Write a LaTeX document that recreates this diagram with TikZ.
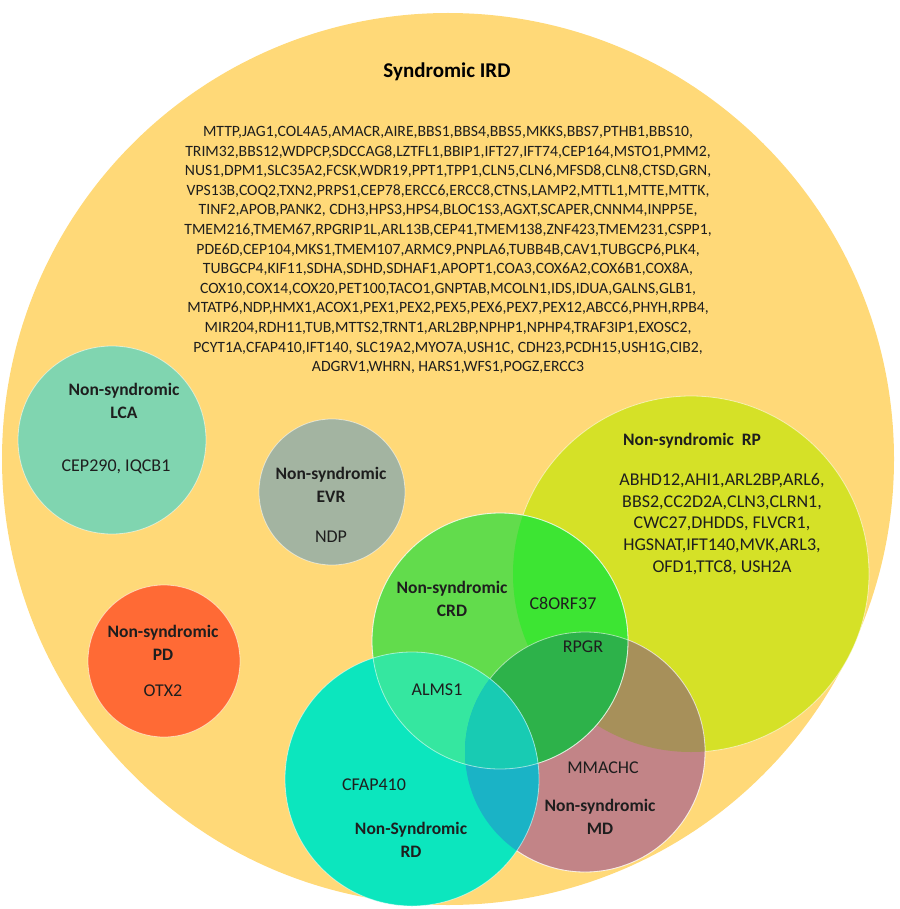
\documentclass[tikz,border=0pt]{standalone}
\usepackage{fontspec}
\setmainfont{Carlito}
\usepackage{xcolor}
\definecolor{irdfill}{HTML}{FFD978}
\definecolor{lcafill}{HTML}{80D5B0}
\definecolor{evrfill}{HTML}{A3B4A1}
\definecolor{pdfill}{HTML}{FF6A35}
\definecolor{rpfill}{HTML}{D5E127}
\definecolor{mdfill}{HTML}{C28487}
\definecolor{mdrpfill}{HTML}{A7905A}
\definecolor{crdfill}{HTML}{62DC4C}
\definecolor{crdrpfill}{HTML}{3DE533}
\definecolor{crdmdfill}{HTML}{2DB24A}
\definecolor{rdfill}{HTML}{0CE6BE}
\definecolor{rdcrdfill}{HTML}{35E7A0}
\definecolor{rdmdfill}{HTML}{1AB3C6}
\definecolor{rdcrdmdfill}{HTML}{18CBB3}
\definecolor{ink}{HTML}{1E1E1E}

\begin{document}
\begin{tikzpicture}[x=1pt,y=-1pt,
    rim/.style={draw=white,draw opacity=.55,line width=.8pt},
    lbl/.style={font=\fontsize{17.5}{23}\selectfont\bfseries,text=ink,align=center,inner sep=0pt},
    gene/.style={font=\fontsize{18}{21.7}\selectfont,text=ink,align=center,inner sep=0pt}]
    \useasboundingbox (0,0) rectangle (899,909);
    \coordinate (ird) at (448,459);
    \coordinate (lca) at (112,440);
    \coordinate (evr) at (332,492);
    \coordinate (pd) at (164,661);
    \coordinate (rp) at (691,574);
    \coordinate (md) at (585,752);
    \coordinate (crd) at (500,641);
    \coordinate (rd) at (412,779);

    \fill[irdfill] (ird) circle (446pt);
    \fill[lcafill,rim] (lca) circle (94pt);
    \fill[evrfill,rim] (evr) circle (73pt);
    \fill[pdfill,rim] (pd) circle (76pt);
    \fill[rpfill,rim] (rp) circle (178pt);
    \fill[mdfill,rim] (md) circle (120pt);
    \begin{scope}
        \clip (md) circle (120pt);
        \fill[mdrpfill] (rp) circle (178pt);
    \end{scope}
    \fill[crdfill] (crd) circle (128pt);
    \begin{scope}
        \clip (crd) circle (128pt);
        \fill[crdrpfill] (rp) circle (178pt);
        \fill[crdmdfill] (md) circle (120pt);
    \end{scope}
    \draw[rim] (crd) circle (128pt);
    \draw[rim] (md) circle (120pt);
    \fill[rdfill] (rd) circle (127pt);
    \begin{scope}
        \clip (rd) circle (127pt);
        \fill[rdcrdfill] (crd) circle (128pt);
        \fill[rdmdfill] (md) circle (120pt);
        \clip (md) circle (120pt);
        \fill[rdcrdmdfill] (crd) circle (128pt);
    \end{scope}
    \draw[rim] (rd) circle (127pt);
    \draw[rim] (crd) circle (128pt);

    \node[font=\fontsize{21}{24}\selectfont\bfseries,text=black,inner sep=0pt] (irdtitle) at (447,72) {Syndromic IRD};
    \node[gene,font=\fontsize{15.7}{19.6}\selectfont] (irdgenes) at (448,250) {MTTP,JAG1,COL4A5,AMACR,AIRE,BBS1,BBS4,BBS5,MKKS,BBS7,PTHB1,BBS10,\\
TRIM32,BBS12,WDPCP,SDCCAG8,LZTFL1,BBIP1,IFT27,IFT74,CEP164,MSTO1,PMM2,\\
NUS1,DPM1,SLC35A2,FCSK,WDR19,PPT1,TPP1,CLN5,CLN6,MFSD8,CLN8,CTSD,GRN,\\
VPS13B,COQ2,TXN2,PRPS1,CEP78,ERCC6,ERCC8,CTNS,LAMP2,MTTL1,MTTE,MTTK,\\
TINF2,APOB,PANK2, CDH3,HPS3,HPS4,BLOC1S3,AGXT,SCAPER,CNNM4,INPP5E,\\
TMEM216,TMEM67,RPGRIP1L,ARL13B,CEP41,TMEM138,ZNF423,TMEM231,CSPP1,\\
PDE6D,CEP104,MKS1,TMEM107,ARMC9,PNPLA6,TUBB4B,CAV1,TUBGCP6,PLK4,\\
TUBGCP4,KIF11,SDHA,SDHD,SDHAF1,APOPT1,COA3,COX6A2,COX6B1,COX8A,\\
COX10,COX14,COX20,PET100,TACO1,GNPTAB,MCOLN1,IDS,IDUA,GALNS,GLB1,\\
MTATP6,NDP,HMX1,ACOX1,PEX1,PEX2,PEX5,PEX6,PEX7,PEX12,ABCC6,PHYH,RPB4,\\
MIR204,RDH11,TUB,MTTS2,TRNT1,ARL2BP,NPHP1,NPHP4,TRAF3IP1,EXOSC2,\\
PCYT1A,CFAP410,IFT140, SLC19A2,MYO7A,USH1C, CDH23,PCDH15,USH1G,CIB2,\\
ADGRV1,WHRN, HARS1,WFS1,POGZ,ERCC3};

    \node[lbl] (lcalbl) at (124,401) {Non-syndromic\\LCA};
    \node[gene] (lcagenes) at (116,467) {CEP290, IQCB1};
    \node[lbl] (evrlbl) at (331,485) {Non-syndromic\\EVR};
    \node[gene] (evrgenes) at (331,537) {NDP};
    \node[lbl] (pdlbl) at (163,643) {Non-syndromic\\PD};
    \node[gene] (pdgenes) at (163,691) {OTX2};
    \node[lbl] (rplbl) at (692,441) {Non-syndromic\ \ RP};
    \node[gene] (rpgenes) at (722,524) {ABHD12,AHI1,ARL2BP,ARL6,\\
BBS2,CC2D2A,CLN3,CLRN1,\\
CWC27,DHDDS, FLVCR1,\\
HGSNAT,IFT140,MVK,ARL3,\\
OFD1,TTC8, USH2A};
    \node[lbl] (crdlbl) at (452,599) {Non-syndromic\\CRD};
    \node[gene] (crdrpgene) at (563,603) {C8ORF37};
    \node[gene] (crdmdgene) at (583,647) {RPGR};
    \node[gene] (rdcrdgene) at (437,690) {ALMS1};
    \node[gene] (rdgene) at (374,785) {CFAP410};
    \node[lbl] (rdlbl) at (411,840) {Non-Syndromic\\RD};
    \node[gene] (mdgene) at (603,768) {MMACHC};
    \node[lbl] (mdlbl) at (600,817) {Non-syndromic\\MD};
\end{tikzpicture}
\end{document}
